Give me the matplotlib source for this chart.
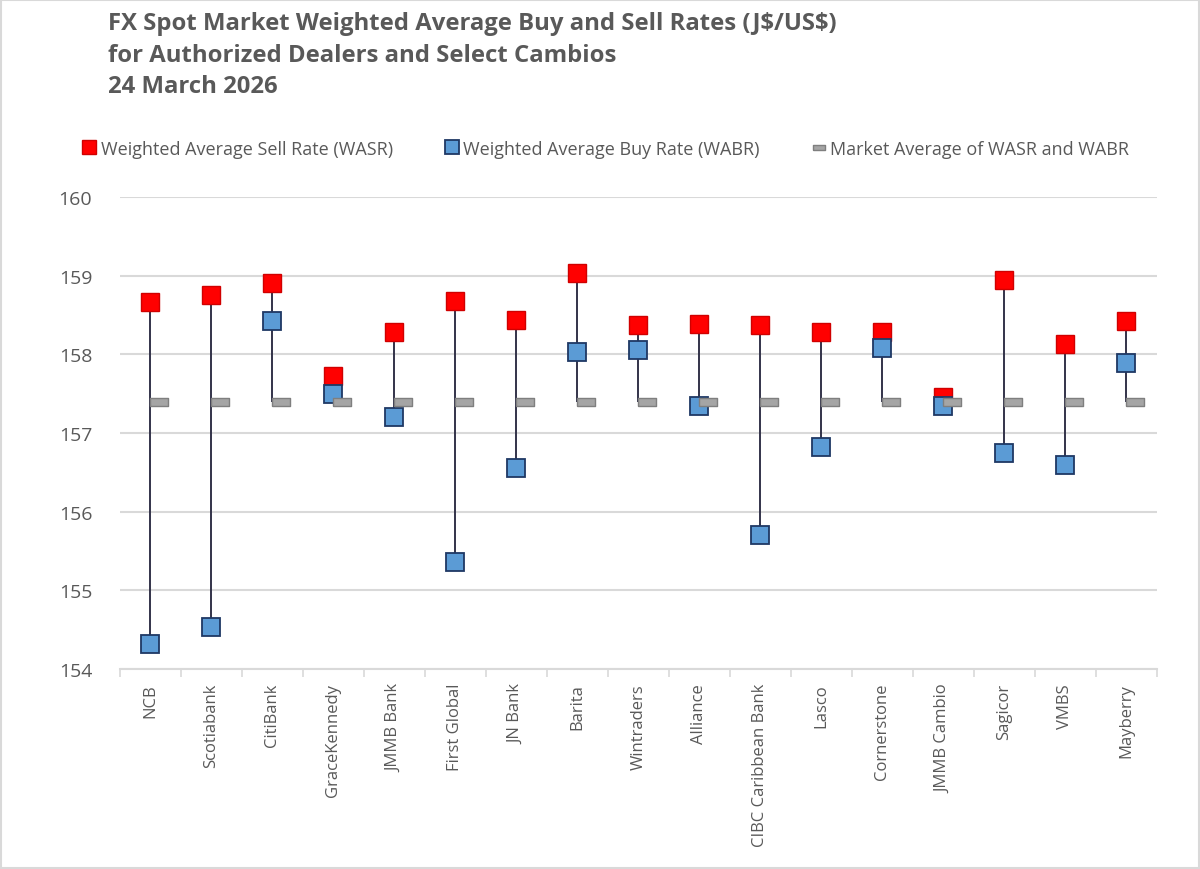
import numpy as np
import matplotlib
matplotlib.use("Agg")
import matplotlib.pyplot as plt
from matplotlib.lines import Line2D
from matplotlib.patches import Rectangle

plt.rcParams['font.family'] = ['Open Sans', 'DejaVu Sans']

# data (J$ per US$)
dealers = ['NCB', 'Scotiabank', 'CitiBank', 'GraceKennedy', 'JMMB Bank', 'First Global',
           'JN Bank', 'Barita', 'Wintraders', 'Alliance', 'CIBC Caribbean Bank', 'Lasco',
           'Cornerstone', 'JMMB Cambio', 'Sagicor', 'VMBS', 'Mayberry']
wasr = [158.67, 158.75, 158.91, 157.73, 158.29, 158.68, 158.44, 159.04, 158.37,
        158.38, 158.37, 158.29, 158.28, 157.46, 158.95, 158.13, 158.43]
wabr = [154.32, 154.53, 158.42, 157.49, 157.20, 155.36, 156.56, 158.03, 158.05,
        157.34, 155.70, 156.82, 158.08, 157.34, 156.74, 156.59, 157.89]
market_avg = 157.40

txt = '#595959'
grid = '#D9D9D9'

x = np.arange(len(dealers))
avg = np.full(len(dealers), market_avg)
hi = np.maximum.reduce([np.array(wasr), np.array(wabr), avg])
lo = np.minimum.reduce([np.array(wasr), np.array(wabr), avg])

fig = plt.figure(figsize=(12, 8.7), dpi=100)
ax = fig.add_axes([0.1, 0.2299, 0.864, 0.5425])

# high-low lines
ax.vlines(x, lo, hi, color='#33334a', lw=1.4, zorder=2)

ax.plot(x, wasr, ls='none', marker='s', ms=12.5, mfc='#FF0000', mec='#D00000', mew=1.0, zorder=3)
ax.plot(x, wabr, ls='none', marker='s', ms=12.5, mfc='#5B9BD5', mec='#1F3864', mew=1.3, zorder=4)

# market average: flat bar starting at the category centre, extending right
bar = [(0, -0.2), (1, -0.2), (1, 0.2), (0, 0.2), (0, -0.2)]
ax.plot(x, avg, ls='none', marker=bar, ms=26, mfc='#A5A5A5', mec='#7F7F7F', mew=1.0, zorder=5)

ax.set_xlim(-0.5, len(dealers) - 0.5)
ax.set_ylim(154, 160)
ax.set_yticks(np.arange(154, 161, 1))
ax.yaxis.grid(True, color=grid, lw=1.5)
ax.set_axisbelow(True)
for s in ['top', 'right', 'left']:
    ax.spines[s].set_visible(False)
ax.spines['bottom'].set_color(grid)
ax.spines['bottom'].set_linewidth(1.5)

ax.set_xticks(x)
ax.set_xticklabels(dealers, rotation=90, fontsize=12, color=txt)
ax.tick_params(axis='x', which='major', length=0, pad=10)
ax.set_xticks(np.arange(-0.5, len(dealers), 1), minor=True)
ax.tick_params(axis='x', which='minor', length=6, color=grid, width=1.2)
ax.tick_params(axis='y', length=0, labelsize=14, labelcolor=txt, pad=20)

fig.text(0.09, 0.986, 'FX Spot Market Weighted Average Buy and Sell Rates (J\\$/US\\$)\n'
         'for Authorized Dealers and Select Cambios\n24 March 2026',
         fontsize=17.2, fontweight='bold', color=txt, va='top', ha='left', linespacing=1.42)

handles = [
    Line2D([], [], ls='none', marker='s', ms=10, mfc='#FF0000', mec='#D00000'),
    Line2D([], [], ls='none', marker='s', ms=10, mfc='#5B9BD5', mec='#1F3864', mew=1.3),
    Line2D([], [], ls='none', marker=[(-1, -0.4), (1, -0.4), (1, 0.4), (-1, 0.4), (-1, -0.4)],
           ms=9, mfc='#A5A5A5', mec='#7F7F7F'),
]
labels = ['Weighted Average Sell Rate (WASR)', 'Weighted Average Buy Rate (WABR)',
          'Market Average of WASR and WABR']
leg = fig.legend(handles, labels, loc='center', bbox_to_anchor=(0.505, 0.828), ncol=3,
                 frameon=False, fontsize=13, handlelength=0.7, handletextpad=0.3,
                 columnspacing=2.9)
for t in leg.get_texts():
    t.set_color(txt)

fig.patches.append(Rectangle((0.001, 0.001), 0.998, 0.998, transform=fig.transFigure,
                             fill=False, edgecolor=grid, lw=1.5))

fig.savefig('out.png', dpi=100)
